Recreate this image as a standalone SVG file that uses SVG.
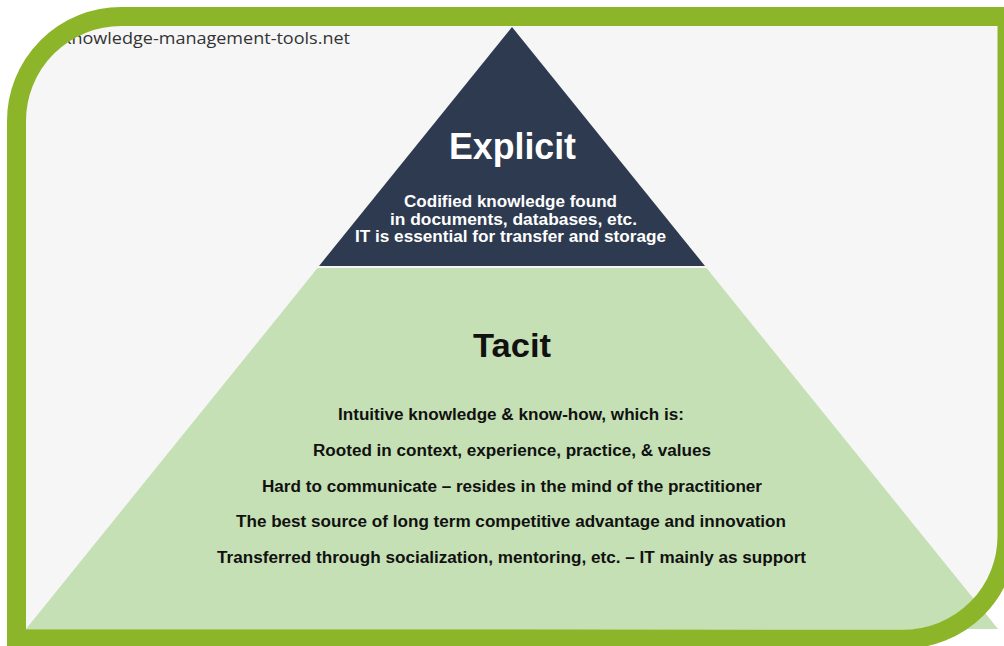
<svg xmlns="http://www.w3.org/2000/svg" width="1004" height="646" viewBox="0 0 1004 646">
<style>
.b{font-family:"Liberation Sans",Arial,sans-serif;font-weight:bold;text-anchor:middle}
.w{fill:#ffffff}
.k{fill:#111111}
.sub{font-size:16px}
</style>
<rect x="0" y="0" width="1004" height="646" fill="#ffffff"/>
<path id="bg" d="M16.5,638.5 L16.5,121 A104.5,104.5 0 0 1 121,16.5 L1007,16.5 L1007,536 A103,103 0 0 1 904,639 Z" fill="#f6f6f7"/>
<g id="tacit">
<polygon points="317.5,268 706.5,268 998,629 26,629" fill="#c5e0b4"/>
<text class="b k" x="512" y="357" font-size="33" textLength="78" lengthAdjust="spacingAndGlyphs">Tacit</text>
<text class="b k sub" x="511" y="420" textLength="346" lengthAdjust="spacingAndGlyphs">Intuitive knowledge &amp; know-how, which is:</text>
<text class="b k sub" x="512" y="456" textLength="398" lengthAdjust="spacingAndGlyphs">Rooted in context, experience, practice, &amp; values</text>
<text class="b k sub" x="512" y="492" textLength="500" lengthAdjust="spacingAndGlyphs">Hard to communicate – resides in the mind of the practitioner</text>
<text class="b k sub" x="511" y="527" textLength="550" lengthAdjust="spacingAndGlyphs">The best source of long term competitive advantage and innovation</text>
<text class="b k sub" x="511.5" y="562.5" textLength="589" lengthAdjust="spacingAndGlyphs">Transferred through socialization, mentoring, etc. – IT mainly as support</text>
</g>
<g id="explicit">
<polygon points="512,27 705,266 319,266" fill="#2e3a4f"/>
<text class="b w" x="512.5" y="159" font-size="36" textLength="127" lengthAdjust="spacingAndGlyphs">Explicit</text>
<text class="b w sub" x="510.5" y="207" textLength="213" lengthAdjust="spacingAndGlyphs">Codified knowledge found</text>
<text class="b w sub" x="513.5" y="224.5" textLength="247" lengthAdjust="spacingAndGlyphs">in documents, databases, etc.</text>
<text class="b w sub" x="510.5" y="242" textLength="311" lengthAdjust="spacingAndGlyphs">IT is essential for transfer and storage</text>
</g>
<g id="site-label">
<text x="62" y="44" font-family="'Open Sans','Noto Sans',sans-serif" font-size="16" fill="#333333" textLength="288" lengthAdjust="spacingAndGlyphs">knowledge-management-tools.net</text>
</g>
<g id="frame">
<path d="M16.5,638.5 L16.5,121 A104.5,104.5 0 0 1 121,16.5 L1007,16.5 L1007,536 A103,103 0 0 1 904,639 Z" fill="none" stroke="#8db52a" stroke-width="19"/>
</g>
</svg>
